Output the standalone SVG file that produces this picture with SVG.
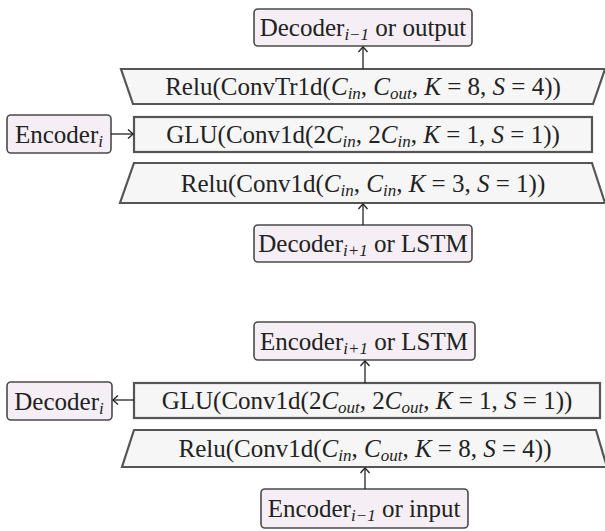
<svg xmlns="http://www.w3.org/2000/svg" width="605" height="531" viewBox="0 0 605 531">
<style>
.node{fill:#f5eff5;stroke:#4a4a4a;stroke-width:1.6}
.layer{fill:#f6f6f6;stroke:#555;stroke-width:2.2}
text{font-family:"Liberation Serif","DejaVu Serif",serif;font-size:25px;fill:#222;text-anchor:middle}
.m{font-style:italic}
.s{font-size:17px}
.edge{stroke:#222;stroke-width:1.3;fill:none;marker-end:url(#ah)}
</style>
<defs>
<marker id="ah" viewBox="-7 -6 9 12" markerWidth="9" markerHeight="12" refX="0" refY="0" orient="auto" markerUnits="userSpaceOnUse">
<path d="M-5,-4.5 Q-1.2,-1.2 0,0 Q-1.2,1.2 -5,4.5" stroke="#222" stroke-width="1.3" fill="none"/>
</marker>
</defs>
<rect width="605" height="531" fill="#fff"/>

<g id="decoder-top">
<g id="dec_prev"><rect class="node" x="254" y="9" width="218" height="37" rx="4"/>
<text x="363" y="36">Decoder<tspan class="m s" dy="4">i−1</tspan><tspan dy="-4"> or output</tspan></text></g>
<g id="dec_convtr"><polygon class="layer" points="121,69 605,69 593,104 133,104"/>
<text x="363" y="95">Relu(ConvTr1d(<tspan class="m">C</tspan><tspan class="m s" dy="4">in</tspan><tspan dy="-4">, </tspan><tspan class="m">C</tspan><tspan class="m s" dy="4">out</tspan><tspan dy="-4">, </tspan><tspan class="m">K</tspan> = 8, <tspan class="m">S</tspan> = 4))</text></g>
<g id="dec_glu"><rect class="layer" x="134" y="117" width="458" height="35"/>
<text x="363" y="143">GLU(Conv1d(2<tspan class="m">C</tspan><tspan class="m s" dy="4">in</tspan><tspan dy="-4">, 2</tspan><tspan class="m">C</tspan><tspan class="m s" dy="4">in</tspan><tspan dy="-4">, </tspan><tspan class="m">K</tspan> = 1, <tspan class="m">S</tspan> = 1))</text></g>
<g id="enc_i"><rect class="node" x="7" y="115" width="104" height="38" rx="4"/>
<text x="59" y="143">Encoder<tspan class="m s" dy="4">i</tspan></text></g>
<g id="dec_conv"><polygon class="layer" points="134,163 592,163 605,203 120,203"/>
<text x="363" y="192">Relu(Conv1d(<tspan class="m">C</tspan><tspan class="m s" dy="4">in</tspan><tspan dy="-4">, </tspan><tspan class="m">C</tspan><tspan class="m s" dy="4">in</tspan><tspan dy="-4">, </tspan><tspan class="m">K</tspan> = 3, <tspan class="m">S</tspan> = 1))</text></g>
<g id="dec_next"><rect class="node" x="254" y="225" width="218" height="37" rx="4"/>
<text x="363" y="252">Decoder<tspan class="m s" dy="4">i+1</tspan><tspan dy="-4"> or LSTM</tspan></text></g>
</g>

<g id="encoder-bottom">
<g id="enc_next"><rect class="node" x="254" y="322" width="221" height="38" rx="4"/>
<text x="364" y="350">Encoder<tspan class="m s" dy="4">i+1</tspan><tspan dy="-4"> or LSTM</tspan></text></g>
<g id="enc_glu"><rect class="layer" x="134" y="383" width="466" height="35"/>
<text x="367" y="409">GLU(Conv1d(2<tspan class="m">C</tspan><tspan class="m s" dy="4">out</tspan><tspan dy="-4">, 2</tspan><tspan class="m">C</tspan><tspan class="m s" dy="4">out</tspan><tspan dy="-4">, </tspan><tspan class="m">K</tspan> = 1, <tspan class="m">S</tspan> = 1))</text></g>
<g id="dec_i"><rect class="node" x="7" y="382" width="105" height="38" rx="4"/>
<text x="59" y="410">Decoder<tspan class="m s" dy="4">i</tspan></text></g>
<g id="enc_conv"><polygon class="layer" points="134,430 596,430 607,467 122,467"/>
<text x="365" y="457">Relu(Conv1d(<tspan class="m">C</tspan><tspan class="m s" dy="4">in</tspan><tspan dy="-4">, </tspan><tspan class="m">C</tspan><tspan class="m s" dy="4">out</tspan><tspan dy="-4">, </tspan><tspan class="m">K</tspan> = 8, <tspan class="m">S</tspan> = 4))</text></g>
<g id="enc_prev"><rect class="node" x="261" y="489" width="207" height="39" rx="4"/>
<text x="364" y="517">Encoder<tspan class="m s" dy="4">i−1</tspan><tspan dy="-4"> or input</tspan></text></g>
</g>

<g id="connectors">
<line class="edge" x1="363" y1="69" x2="363" y2="47"/>
<line class="edge" x1="111" y1="134" x2="133" y2="134"/>
<line class="edge" x1="363" y1="225" x2="363" y2="204"/>
<line class="edge" x1="365" y1="383" x2="365" y2="361"/>
<line class="edge" x1="134" y1="400" x2="113" y2="400"/>
<line class="edge" x1="365" y1="489" x2="365" y2="468"/>
</g>
</svg>
